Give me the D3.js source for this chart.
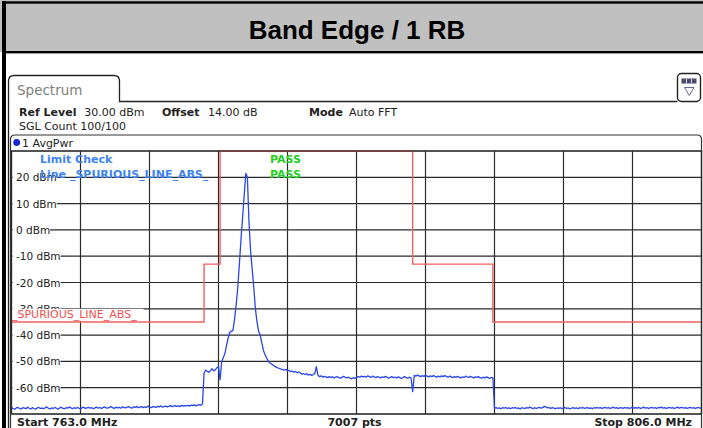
<!DOCTYPE html>
<html><head><meta charset="utf-8">
<script src="https://cdn.jsdelivr.net/npm/d3@7/dist/d3.min.js"></script>
<style>
html,body{margin:0;padding:0;background:#fff;}
svg{display:block;}
text{font-family:"DejaVu Sans",sans-serif;}
</style></head>
<body>
<svg id="chart" width="703" height="428"></svg>
<script>
// ---------- DATA ----------
const titleText = "Band Edge / 1 RB";
const freqStart = 763.0, freqStop = 806.0, freqStep = 0.1;
// Averaged power trace (dBm), one value per 0.1 MHz from 763.0 to 806.0 MHz
const traceDbm = [
 -67.6,-67.9,-68.2,-67.7,-67.5,-67.9,-68.1,-67.6,-67.8,-68.0,
 -67.4,-67.8,-68.1,-67.6,-67.9,-68.2,-67.7,-67.5,-67.9,-67.8,
 -68.0,-67.6,-67.3,-67.8,-68.1,-67.7,-67.9,-67.5,-67.8,-68.2,
 -67.7,-67.4,-67.9,-68.0,-67.6,-67.8,-67.3,-67.7,-68.0,-67.6,
 -67.9,-67.5,-67.8,-68.1,-67.6,-67.4,-67.9,-67.7,-67.5,-67.8,
 -67.6,-68.0,-67.7,-67.4,-67.8,-67.5,-67.9,-67.6,-67.3,-67.7,
 -67.8,-67.5,-67.2,-67.6,-67.9,-67.4,-67.7,-67.5,-67.8,-67.3,
 -67.5,-67.7,-67.4,-67.2,-67.6,-67.8,-67.3,-67.5,-67.1,-67.6,
 -67.4,-67.2,-67.6,-67.3,-67.5,-67.0,-67.4,-67.6,-67.2,-67.3,
 -67.5,-67.1,-67.3,-66.9,-67.4,-67.2,-67.0,-67.3,-67.1,-66.8,
 -67.2,-67.0,-66.8,-67.1,-66.9,-67.2,-66.7,-67.0,-66.8,-66.9,
 -66.7,-67.0,-66.6,-66.8,-66.5,-66.9,-66.6,-66.4,-66.7,-66.3,
 -54.5,-53.3,-53.8,-54.1,-53.5,-52.8,-53.6,-53.2,-52.4,-52.0,
 -57.0,-50.0,-48.5,-47.0,-44.0,-41.2,-39.0,-38.6,-38.2,-34.0,
 -28.5,-22.0,-13.0,-3.8,4.6,13.0,21.5,20.0,3.0,-8.0,
 -15.0,-22.0,-30.0,-35.0,-38.5,-40.0,-43.0,-45.8,-47.5,-48.7,
 -49.8,-50.6,-51.0,-51.4,-51.9,-52.2,-52.5,-52.7,-52.9,-53.1,
 -53.3,-53.0,-53.6,-53.4,-53.9,-53.7,-54.1,-53.8,-54.3,-54.0,
 -54.4,-54.9,-54.6,-55.0,-54.7,-55.2,-54.9,-55.3,-55.0,-54.6,
 -52.0,-55.3,-55.8,-55.5,-56.0,-55.7,-55.9,-56.2,-55.8,-56.1,
 -55.9,-56.3,-56.0,-55.8,-56.2,-56.4,-56.0,-55.7,-56.1,-56.3,
 -56.0,-56.4,-56.6,-56.2,-56.5,-56.1,-55.8,-56.0,-55.6,-55.9,
 -55.7,-56.0,-55.5,-55.8,-56.1,-55.6,-55.9,-56.2,-55.8,-56.0,
 -56.3,-55.9,-56.1,-55.7,-56.0,-56.4,-56.1,-55.8,-56.2,-56.0,
 -56.3,-55.9,-56.2,-56.5,-56.1,-55.8,-56.2,-56.4,-56.0,-56.3,
 -61.5,-55.3,-55.6,-55.2,-55.5,-55.8,-55.4,-55.7,-55.3,-55.6,
 -55.9,-55.5,-55.8,-55.4,-55.7,-56.0,-55.6,-55.9,-55.5,-55.8,
 -55.4,-55.7,-56.0,-55.6,-55.9,-56.2,-55.8,-56.1,-55.7,-56.0,
 -56.3,-55.9,-56.2,-55.6,-55.9,-56.1,-55.7,-56.0,-56.3,-55.9,
 -56.1,-55.8,-56.2,-56.4,-56.0,-56.3,-55.9,-56.2,-56.5,-56.1,
 -56.3,
 -67.8,-67.6,-67.9,-67.7,-68.0,-67.6,-67.8,-67.5,-67.9,
 -67.7,-68.0,-67.6,-67.8,-67.5,-67.9,-67.7,-68.1,-67.6,-67.8,
 -67.9,-67.6,-67.8,-67.4,-67.7,-68.0,-67.6,-67.9,-67.7,-67.5,
 -67.8,-67.6,-67.1,-67.3,-67.7,-67.5,-67.9,-67.6,-67.8,-68.0,
 -67.7,-67.9,-67.6,-68.0,-67.8,-67.5,-67.9,-67.7,-68.1,-67.8,
 -67.6,-67.9,-67.7,-68.0,-67.6,-67.8,-67.5,-67.9,-67.7,-67.6,
 -67.9,-67.7,-68.0,-67.6,-67.8,-67.5,-67.8,-67.6,-67.9,-67.7,
 -67.5,-67.8,-67.6,-67.9,-67.7,-67.4,-67.8,-67.6,-67.9,-67.7,
 -67.6,-67.9,-67.5,-67.8,-67.6,-67.9,-67.7,-67.4,-67.8,-67.6,
 -67.8,-67.5,-67.9,-67.7,-67.4,-67.8,-67.6,-67.9,-67.7,-67.5,
 -67.8,-67.6,-67.9,-67.5,-67.7,-67.4,-67.8,-67.6,-67.9,-67.7,
 -67.5,-67.8,-67.6,-67.9,-67.7,-67.4,-67.8,-67.6,-67.5,-67.8,
 -67.6,-67.9,-67.7,-67.5,-67.8,-67.6,-67.9,-67.7,-67.5,-67.8,
 -67.6
];
// Limit line _SPURIOUS_LINE_ABS_
const limitFreq = [763, 775, 775, 776, 776, 788, 788, 793, 793, 806];
const limitDbm  = [-35, -35, -13, -13, 30, 30, -13, -13, -35, -35];
// grid / tick values
const xGridMHz = [763, 767.3, 771.6, 775.9, 780.2, 784.5, 788.8, 793.1, 797.4, 801.7, 806];
const yGridDbm = [30, 20, 10, 0, -10, -20, -30, -40, -50, -60, -70];
const yLabelDbm = [20, 10, 0, -10, -20, -30, -40, -50, -60];
const infoItems = [
  {label:"Ref Level", value:"30.00 dBm"},
  {label:"Offset", value:"14.00 dB"},
  {label:"Mode", value:"Auto FFT"}
];
const countText = "SGL Count 100/100";
const traceName = "1 AvgPwr";
const limitRows = [
  {name:"Limit Check", result:"PASS"},
  {name:"Line _SPURIOUS_LINE_ABS_", result:"PASS"}
];
const limitLabel = "_SPURIOUS_LINE_ABS_";
const footer = {start:"Start 763.0 MHz", pts:"7007 pts", stop:"Stop 806.0 MHz"};

// ---------- DRAW ----------
const svg = d3.select("#chart");
const W = 703, H = 428;
const P = {l:11.5, r:701.5, t:151, b:414};
const x = d3.scaleLinear().domain([freqStart, freqStop]).range([P.l, P.r]);
const y = d3.scaleLinear().domain([-70, 30]).range([P.b, P.t]);

// title bar
svg.append("rect").attr("x",0).attr("y",0).attr("width",W).attr("height",52).attr("fill","#c0c0c0");
svg.append("rect").attr("x",2).attr("y",1.3).attr("width",W).attr("height",2.4).attr("fill","#000");
svg.append("rect").attr("x",2).attr("y",51).attr("width",W).attr("height",2.4).attr("fill","#000");
svg.append("rect").attr("x",0).attr("y",53.4).attr("width",2).attr("height",H).attr("fill","#fff");
svg.append("rect").attr("x",2).attr("y",1.3).attr("width",4).attr("height",H).attr("fill","#000");
svg.append("text").attr("x",357).attr("y",38.5).attr("text-anchor","middle")
  .style("font-family","'Liberation Sans',Arial,sans-serif").style("font-weight","bold")
  .style("font-size","26px").attr("fill","#000").text(titleText);

// tab
svg.append("path")
  .attr("d","M8.5,428 L8.5,81 Q8.5,75.5 14,75.5 L114,75.5 Q119.5,75.5 119.5,81 L119.5,101.5 L677.5,101.5")
  .attr("fill","none").attr("stroke","#222").attr("stroke-width",1.3);
svg.append("text").attr("x",17).attr("y",95).style("font-size","13.5px").attr("fill","#808080").text("Spectrum");

// icon
svg.append("rect").attr("x",677.5).attr("y",73.5).attr("width",23).attr("height",28).attr("rx",4)
  .attr("fill","#fff").attr("stroke","#222").attr("stroke-width",1.4);
svg.append("rect").attr("x",681.5).attr("y",78.5).attr("width",15).attr("height",5).attr("fill","#4a4a70");
[686.5,691.5].forEach(v=>svg.append("line").attr("x1",v).attr("x2",v).attr("y1",79).attr("y2",83).attr("stroke","#ddd").attr("stroke-width",1));
svg.append("path").attr("d","M684.5,87.5 L694,87.5 L689.25,95.5 Z").attr("fill","none").attr("stroke","#6a6a90").attr("stroke-width",1);

// info lines
const info = svg.append("g").style("font-size","11px").attr("fill","#222");
const infoX = [19, 162, 309];
const valX = [84.3, 208, 349];
infoItems.forEach((d,i)=>{
  info.append("text").attr("x",infoX[i]).attr("y",116).style("font-weight","bold").text(d.label);
  info.append("text").attr("x",valX[i]).attr("y",116).text(d.value);
});
info.append("text").attr("x",19).attr("y",130).text(countText);

// diagram box
svg.append("path").attr("d",`M10.5,428 L10.5,139.5 Q10.5,135 15,135 L697,135 Q701.5,135 701.5,139.5 L701.5,428`)
  .attr("fill","#fff").attr("stroke","#333").attr("stroke-width",1.2);
svg.append("circle").attr("cx",16.7).attr("cy",142.5).attr("r",3.4).attr("fill","#1428d8");
svg.append("text").attr("x",22).attr("y",146.5).style("font-size","11px").attr("fill","#222").text(traceName);

// grid
const grid = svg.append("g").attr("stroke","#2b2b2b").attr("stroke-width",1.2);
grid.selectAll("line.v").data(xGridMHz).join("line").attr("class","v")
  .attr("x1",d=>x(d)).attr("x2",d=>x(d)).attr("y1",P.t).attr("y2",P.b);
grid.selectAll("line.h").data(yGridDbm).join("line").attr("class","h")
  .attr("x1",P.l).attr("x2",P.r).attr("y1",d=>y(d)).attr("y2",d=>y(d));

// y labels with white backgrounds
const yl = svg.append("g").style("font-size","10.5px").attr("fill","#222");
yLabelDbm.forEach(v=>{
  const t = yl.append("text").attr("x",16).attr("y",y(v)+4).text(v+" dBm");
  const w = t.node().getComputedTextLength();
  yl.insert("rect","text").attr("x",P.l+1).attr("y",y(v)-5).attr("width",16+w-P.l-1).attr("height",10).attr("fill","#fff");
});

// limit label box
const ll = svg.append("g");
ll.append("rect").attr("x",P.l+1).attr("y",y(-30)).attr("width",131).attr("height",y(-35)-y(-30)-1).attr("fill","#fff");
ll.append("text").attr("x",12).attr("y",y(-35)-3.5).style("font-size","11px").attr("fill","#f05050").text(limitLabel);

// limit check legend
const lg = svg.append("g").style("font-size","11px").style("font-weight","bold");
limitRows.forEach((d,i)=>{
  lg.append("text").attr("x",40).attr("y",163+15*i).attr("fill","#3c84f2").text(d.name);
  lg.append("text").attr("x",270).attr("y",163+15*i).attr("fill","#22d022").text(d.result);
});

// limit line
const limitData = limitFreq.map((f,i)=>[f, limitDbm[i]]);
svg.append("path").datum(limitData)
  .attr("d", d3.line().x(d=>x(d[0])).y(d=>y(d[1])))
  .attr("fill","none").attr("stroke","#f26060").attr("stroke-width",1.4);

// trace
const traceData = traceDbm.map((v,i)=>[freqStart + i*freqStep, v]);
svg.append("path").datum(traceData)
  .attr("d", d3.line().x(d=>x(d[0])).y(d=>y(d[1])))
  .attr("fill","none").attr("stroke","#2a46ee").attr("stroke-width",1.3).attr("stroke-linejoin","round");

// plot border
svg.append("rect").attr("x",P.l).attr("y",P.t).attr("width",P.r-P.l).attr("height",P.b-P.t)
  .attr("fill","none").attr("stroke","#2b2b2b").attr("stroke-width",1.2);

// footer
const ft = svg.append("g").style("font-size","11px").style("font-weight","bold").attr("fill","#222");
ft.append("text").attr("x",17).attr("y",426).text(footer.start);
ft.append("text").attr("x",354.5).attr("y",426).attr("text-anchor","middle").text(footer.pts);
ft.append("text").attr("x",692).attr("y",426).attr("text-anchor","end").text(footer.stop);
</script>
</body></html>
